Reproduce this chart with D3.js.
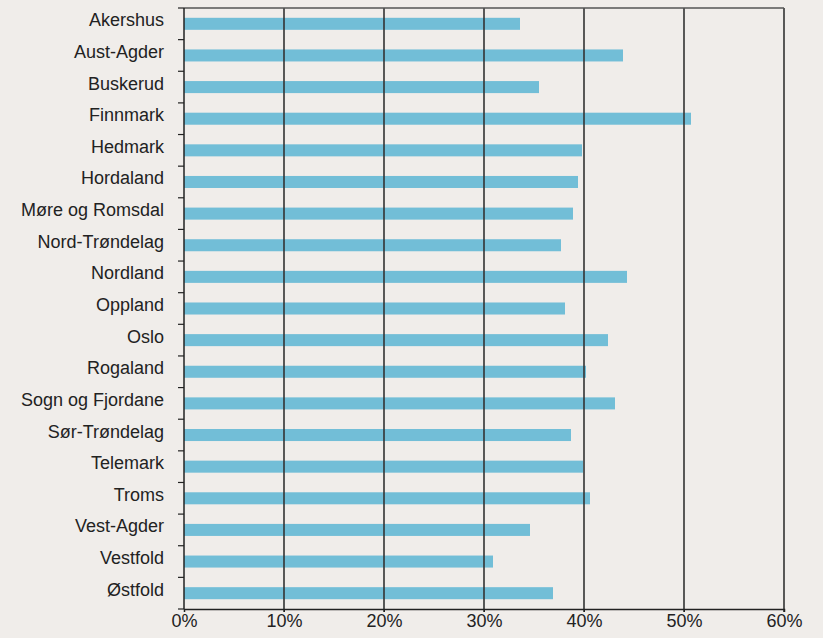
<!DOCTYPE html>
<meta charset="utf-8">
<script src="https://d3js.org/d3.v7.min.js"></script>
<style>
  body { margin: 0; background: #f0edea; }
  svg { display: block; font-family: "Liberation Sans", Arial, sans-serif; }
</style>
<div id="chart"></div>
<script>
  // data
  var counties = ["Akershus", "Aust-Agder", "Buskerud", "Finnmark", "Hedmark", "Hordaland",
    "Møre og Romsdal", "Nord-Trøndelag", "Nordland", "Oppland", "Oslo", "Rogaland",
    "Sogn og Fjordane", "Sør-Trøndelag", "Telemark", "Troms", "Vest-Agder", "Vestfold", "Østfold"];
  var shares = [33.6, 43.9, 35.5, 50.7, 39.8, 39.4, 38.9, 37.7, 44.3, 38.1, 42.4, 40.2,
    43.1, 38.7, 39.9, 40.6, 34.6, 30.9, 36.9];
  var xTicks = [0, 10, 20, 30, 40, 50, 60];

  var W = 823, H = 638;
  var margin = {top: 8, right: 39, bottom: 29, left: 184},
    width = W - margin.left - margin.right,
    height = H - margin.top - margin.bottom;

  var svg = d3.select("#chart").append("svg")
      .attr("width", W)
      .attr("height", H)
    .append("g")
      .attr("transform", "translate(" + margin.left + "," + margin.top + ")");

  var x = d3.scaleLinear().domain([0, 60]).range([0, width]);
  var y = d3.scaleBand().domain(counties).range([0, height]).padding(0);

  // bars
  var barH = y.bandwidth() * 0.38;
  svg.append("g")
    .selectAll("rect")
    .data(counties)
    .enter()
    .append("rect")
      .attr("x", x(0))
      .attr("y", function(d) { return y(d) + (y.bandwidth() - barH) / 2; })
      .attr("width", function(d, i) { return x(shares[i]) - x(0); })
      .attr("height", barH)
      .attr("fill", "#72bed7");

  // vertical grid lines (drawn over the bars)
  svg.append("g")
    .selectAll("line")
    .data(xTicks.slice(1))
    .enter()
    .append("line")
      .attr("x1", function(d) { return x(d); })
      .attr("x2", function(d) { return x(d); })
      .attr("y1", 0)
      .attr("y2", height + 3)
      .attr("stroke", "#333")
      .attr("stroke-width", 1.6);

  // top frame line
  svg.append("line")
    .attr("x1", 0).attr("x2", width)
    .attr("y1", 0).attr("y2", 0)
    .attr("stroke", "#555")
    .attr("stroke-width", 1.5);

  // x axis
  var xAxis = svg.append("g")
    .attr("transform", "translate(0," + height + ")")
    .call(d3.axisBottom(x).tickValues(xTicks).tickSize(3).tickFormat(function(d) { return d + "%"; }));
  xAxis.select(".domain").attr("stroke", "#222").attr("stroke-width", 1.5);
  xAxis.selectAll(".tick line").attr("stroke", "#222");
  xAxis.selectAll("text")
    .attr("font-size", 18)
    .attr("fill", "#222")
    .attr("dy", "0.62em")
    .attr("y", 7)
    .attr("font-family", "'Liberation Sans', Arial, sans-serif");

  // y axis line with boundary ticks
  svg.append("line")
    .attr("x1", 0).attr("x2", 0)
    .attr("y1", 0).attr("y2", height)
    .attr("stroke", "#222")
    .attr("stroke-width", 1.5);
  var bounds = counties.map(function(d) { return y(d); }).concat([height]);
  svg.append("g")
    .selectAll("line")
    .data(bounds)
    .enter()
    .append("line")
      .attr("x1", -6).attr("x2", 0)
      .attr("y1", function(d) { return d; })
      .attr("y2", function(d) { return d; })
      .attr("stroke", "#222")
      .attr("stroke-width", 1.2);

  // category labels
  svg.append("g")
    .selectAll("text")
    .data(counties)
    .enter()
    .append("text")
      .attr("x", -20)
      .attr("y", function(d) { return y(d) + y.bandwidth() / 2 + 2.5; })
      .attr("text-anchor", "end")
      .attr("font-size", 18)
      .attr("fill", "#222")
      .text(function(d) { return d; });
</script>
